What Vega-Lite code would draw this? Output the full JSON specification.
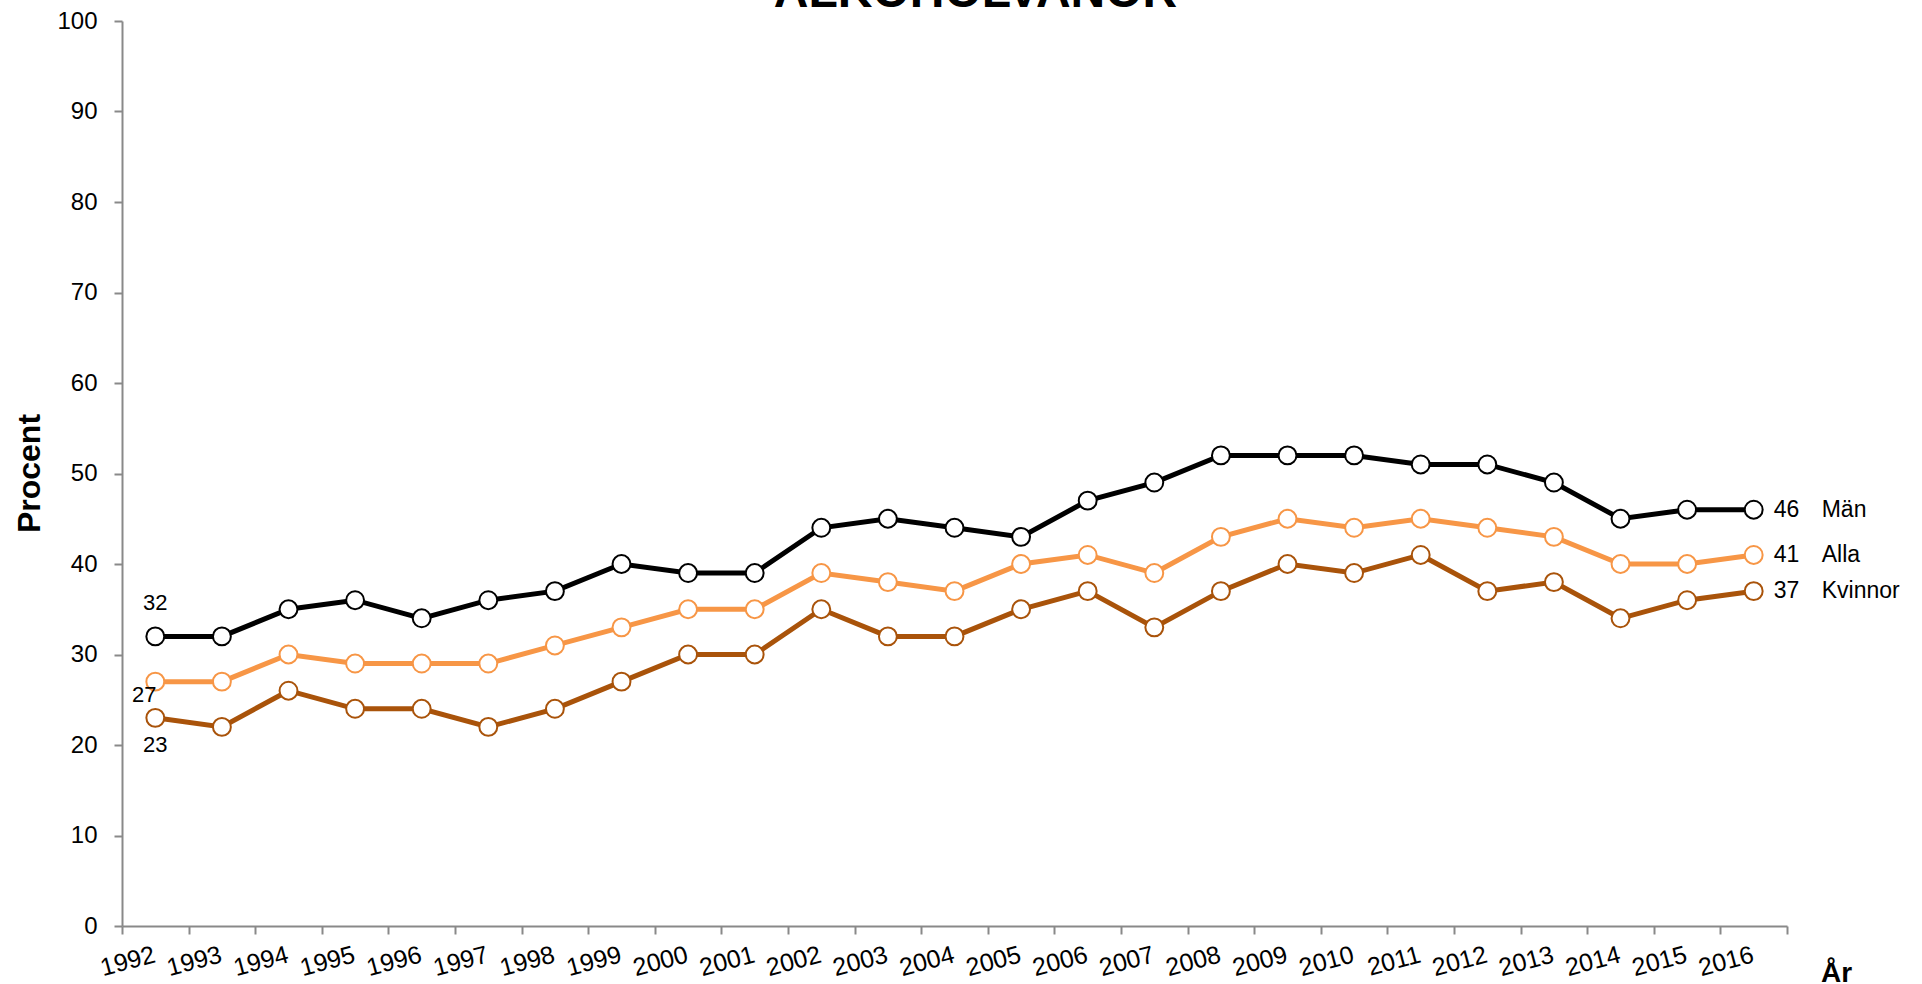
{
  "$schema": "https://vega.github.io/schema/vega-lite/v6.json",
  "width": 1665,
  "height": 905,
  "autosize": {"type": "none"},
  "padding": {"left": 122, "top": 21, "right": 135, "bottom": 58},
  "background": "white",
  "config": {"view": {"stroke": null}, "font": "Liberation Sans"},
  "title": {"text": "ALKOHOLVANOR", "fontSize": 48, "fontWeight": "bold", "font": "Liberation Sans", "color": "black", "baseline": "alphabetic", "offset": 0, "dx": 21, "dy": 46, "anchor": "middle"},
  "data": {"values": [
    {"year": 1992, "serie": "Män", "value": 32}, {"year": 1993, "serie": "Män", "value": 32}, {"year": 1994, "serie": "Män", "value": 35}, {"year": 1995, "serie": "Män", "value": 36}, {"year": 1996, "serie": "Män", "value": 34}, {"year": 1997, "serie": "Män", "value": 36}, {"year": 1998, "serie": "Män", "value": 37}, {"year": 1999, "serie": "Män", "value": 40}, {"year": 2000, "serie": "Män", "value": 39}, {"year": 2001, "serie": "Män", "value": 39}, {"year": 2002, "serie": "Män", "value": 44}, {"year": 2003, "serie": "Män", "value": 45}, {"year": 2004, "serie": "Män", "value": 44}, {"year": 2005, "serie": "Män", "value": 43}, {"year": 2006, "serie": "Män", "value": 47}, {"year": 2007, "serie": "Män", "value": 49}, {"year": 2008, "serie": "Män", "value": 52}, {"year": 2009, "serie": "Män", "value": 52}, {"year": 2010, "serie": "Män", "value": 52}, {"year": 2011, "serie": "Män", "value": 51}, {"year": 2012, "serie": "Män", "value": 51}, {"year": 2013, "serie": "Män", "value": 49}, {"year": 2014, "serie": "Män", "value": 45}, {"year": 2015, "serie": "Män", "value": 46}, {"year": 2016, "serie": "Män", "value": 46},
    {"year": 1992, "serie": "Alla", "value": 27}, {"year": 1993, "serie": "Alla", "value": 27}, {"year": 1994, "serie": "Alla", "value": 30}, {"year": 1995, "serie": "Alla", "value": 29}, {"year": 1996, "serie": "Alla", "value": 29}, {"year": 1997, "serie": "Alla", "value": 29}, {"year": 1998, "serie": "Alla", "value": 31}, {"year": 1999, "serie": "Alla", "value": 33}, {"year": 2000, "serie": "Alla", "value": 35}, {"year": 2001, "serie": "Alla", "value": 35}, {"year": 2002, "serie": "Alla", "value": 39}, {"year": 2003, "serie": "Alla", "value": 38}, {"year": 2004, "serie": "Alla", "value": 37}, {"year": 2005, "serie": "Alla", "value": 40}, {"year": 2006, "serie": "Alla", "value": 41}, {"year": 2007, "serie": "Alla", "value": 39}, {"year": 2008, "serie": "Alla", "value": 43}, {"year": 2009, "serie": "Alla", "value": 45}, {"year": 2010, "serie": "Alla", "value": 44}, {"year": 2011, "serie": "Alla", "value": 45}, {"year": 2012, "serie": "Alla", "value": 44}, {"year": 2013, "serie": "Alla", "value": 43}, {"year": 2014, "serie": "Alla", "value": 40}, {"year": 2015, "serie": "Alla", "value": 40}, {"year": 2016, "serie": "Alla", "value": 41},
    {"year": 1992, "serie": "Kvinnor", "value": 23}, {"year": 1993, "serie": "Kvinnor", "value": 22}, {"year": 1994, "serie": "Kvinnor", "value": 26}, {"year": 1995, "serie": "Kvinnor", "value": 24}, {"year": 1996, "serie": "Kvinnor", "value": 24}, {"year": 1997, "serie": "Kvinnor", "value": 22}, {"year": 1998, "serie": "Kvinnor", "value": 24}, {"year": 1999, "serie": "Kvinnor", "value": 27}, {"year": 2000, "serie": "Kvinnor", "value": 30}, {"year": 2001, "serie": "Kvinnor", "value": 30}, {"year": 2002, "serie": "Kvinnor", "value": 35}, {"year": 2003, "serie": "Kvinnor", "value": 32}, {"year": 2004, "serie": "Kvinnor", "value": 32}, {"year": 2005, "serie": "Kvinnor", "value": 35}, {"year": 2006, "serie": "Kvinnor", "value": 37}, {"year": 2007, "serie": "Kvinnor", "value": 33}, {"year": 2008, "serie": "Kvinnor", "value": 37}, {"year": 2009, "serie": "Kvinnor", "value": 40}, {"year": 2010, "serie": "Kvinnor", "value": 39}, {"year": 2011, "serie": "Kvinnor", "value": 41}, {"year": 2012, "serie": "Kvinnor", "value": 37}, {"year": 2013, "serie": "Kvinnor", "value": 38}, {"year": 2014, "serie": "Kvinnor", "value": 34}, {"year": 2015, "serie": "Kvinnor", "value": 36}, {"year": 2016, "serie": "Kvinnor", "value": 37}
  ]},
  "encoding": {
    "x": {"field": "year", "type": "quantitative",
      "scale": {"domain": [1991.5, 2016.5], "nice": false, "zero": false},
      "axis": {
        "values": [1991.5, 1992.5, 1993.5, 1994.5, 1995.5, 1996.5, 1997.5, 1998.5, 1999.5, 2000.5, 2001.5, 2002.5, 2003.5, 2004.5, 2005.5, 2006.5, 2007.5, 2008.5, 2009.5, 2010.5, 2011.5, 2012.5, 2013.5, 2014.5, 2015.5, 2016.5],
        "labelExpr": "datum.value > 2016 ? '' : format(datum.value + 0.5, 'd')",
        "labelAngle": -15, "labelAlign": "right", "labelBaseline": "top", "labelOffset": 29, "labelPadding": 8,
        "labelFontSize": 25, "labelColor": "black", "labelFlush": false, "labelOverlap": false,
        "tickSize": 8, "tickColor": "#898989", "tickWidth": 2, "domainColor": "#898989", "domainWidth": 2, "grid": false,
        "title": "År", "titleFontSize": 28, "titleFontWeight": "bold", "titleColor": "black",
        "titleX": 1714, "titleY": 55, "titleAlign": "center", "titleBaseline": "alphabetic"
      }
    },
    "y": {"field": "value", "type": "quantitative",
      "scale": {"domain": [0, 100], "nice": false},
      "axis": {
        "values": [0, 10, 20, 30, 40, 50, 60, 70, 80, 90, 100],
        "labelFontSize": 24, "labelColor": "black", "labelPadding": 17,
        "tickSize": 8, "tickColor": "#898989", "tickWidth": 2, "domainColor": "#898989", "domainWidth": 2, "grid": false,
        "title": "Procent", "titleFontSize": 32, "titleFontWeight": "bold", "titleColor": "black",
        "titleAngle": -90, "titleX": -93, "titleY": 452, "titleAlign": "center", "titleBaseline": "middle"
      }
    }
  },
  "layer": [
    {"mark": {"type": "line", "strokeWidth": 5},
     "encoding": {"color": {"field": "serie", "type": "nominal", "scale": {"domain": ["Män", "Alla", "Kvinnor"], "range": ["#000000", "#F79646", "#A9530A"]}, "legend": null}}},
    {"mark": {"type": "point", "filled": false, "fill": "white", "fillOpacity": 1, "opacity": 1, "size": 320, "strokeWidth": 2},
     "encoding": {"color": {"field": "serie", "type": "nominal", "scale": {"domain": ["Män", "Alla", "Kvinnor"], "range": ["#000000", "#F79646", "#A9530A"]}, "legend": null}}},
    {"transform": [{"filter": "datum.year == 2016"}],
     "mark": {"type": "text", "align": "left", "baseline": "middle", "dx": 20, "fontSize": 23, "color": "black"},
     "encoding": {"text": {"field": "value", "type": "quantitative"}}},
    {"transform": [{"filter": "datum.year == 2016"}],
     "mark": {"type": "text", "align": "left", "baseline": "middle", "dx": 68, "fontSize": 23, "color": "black"},
     "encoding": {"text": {"field": "serie", "type": "nominal"}}},
    {"transform": [{"filter": "datum.year == 1992 && datum.serie == 'Män'"}],
     "mark": {"type": "text", "align": "center", "baseline": "middle", "dy": -33, "fontSize": 22, "color": "black"},
     "encoding": {"text": {"field": "value", "type": "quantitative"}}},
    {"transform": [{"filter": "datum.year == 1992 && datum.serie == 'Alla'"}],
     "mark": {"type": "text", "align": "center", "baseline": "middle", "dx": -11, "dy": 13, "fontSize": 22, "color": "black"},
     "encoding": {"text": {"field": "value", "type": "quantitative"}}},
    {"transform": [{"filter": "datum.year == 1992 && datum.serie == 'Kvinnor'"}],
     "mark": {"type": "text", "align": "center", "baseline": "middle", "dy": 27, "fontSize": 22, "color": "black"},
     "encoding": {"text": {"field": "value", "type": "quantitative"}}}
  ]
}
